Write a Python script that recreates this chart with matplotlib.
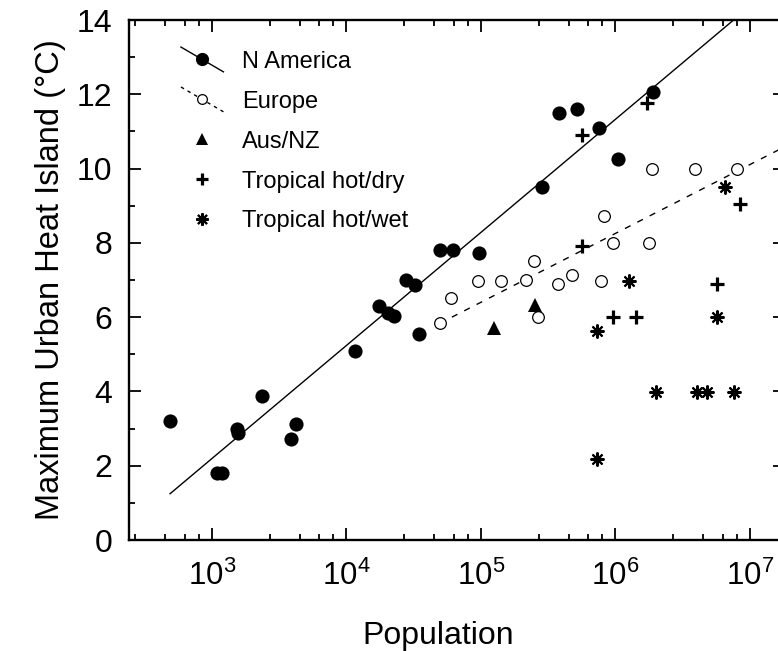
import numpy as np
import matplotlib
matplotlib.use('Agg')
import matplotlib.pyplot as plt
from matplotlib.lines import Line2D
from matplotlib.legend_handler import HandlerBase
from matplotlib.ticker import LogLocator, MultipleLocator, NullFormatter

plt.rcParams['font.family'] = ['Liberation Sans', 'DejaVu Sans']
plt.rcParams['mathtext.fontset'] = 'custom'
plt.rcParams['mathtext.rm'] = 'Liberation Sans'
plt.rcParams['mathtext.default'] = 'regular'

# ---------------- data ----------------
na_pop = [486, 1096, 1189, 1538, 1581, 2355, 4207, 3882, 11560, 17500, 20400,
          22650, 27900, 32140, 35000, 49300, 61800, 97500, 287000, 381000,
          516000, 755000, 1045000, 1897000]
na_ui = [3.20, 1.80, 1.80, 3.00, 2.87, 3.89, 3.11, 2.71, 5.10, 6.31, 6.10,
         6.03, 7.00, 6.87, 5.54, 7.81, 7.81, 7.72, 9.51, 11.50, 11.60, 11.10,
         10.26, 12.05]

eu_pop = [49300, 60100, 95700, 141000, 218000, 249000, 264000, 377000, 474000,
          785000, 822000, 957000, 1770000, 1875000, 3880000, 7980000]
eu_ui = [5.83, 6.51, 6.98, 6.98, 7.00, 7.52, 6.01, 6.89, 7.14, 6.98, 8.73,
         8.00, 8.00, 9.98, 9.98, 10.00]

au_pop = [126000, 252000]
au_ui = [5.70, 6.33]

thd_pop = [568000, 1722000, 568000, 8450000, 5680000, 957000, 1426000]
thd_ui = [10.90, 11.77, 7.92, 9.04, 6.89, 6.01, 6.01]

thw_pop = [6550000, 1259000, 5680000, 726000, 2005000, 4036000, 4786000,
           7551000, 726000]
thw_ui = [9.51, 6.98, 6.01, 5.63, 3.99, 3.99, 3.99, 3.99, 2.17]

# regression lines: UHI = slope * log10(P) + intercept
na_fit = (3.046, -6.95)
eu_fit = (1.855, -2.876)

labels = ['N America', 'Europe', 'Aus/NZ', 'Tropical hot/dry', 'Tropical hot/wet']
y_ticks = [0, 2, 4, 6, 8, 10, 12, 14]
minor_subs = [2.7, 4.5, 6.3, 8.0]

# ---------------- figure ----------------
W, H = 778, 651
fig = plt.figure(figsize=(W / 100, H / 100), dpi=100)
ax = fig.add_axes([129 / W, 111 / H, 656 / W, 520 / H])
ax.set_xscale('log')
xmin, xmax = 10 ** 2.3856, 10 ** 7.26
ax.set_xlim(xmin, xmax)
ax.set_ylim(0, 14)

# regression lines
for pop, fit, ls in [(na_pop, na_fit, '-'), (eu_pop, eu_fit, '--')]:
    xs = np.array([min(pop), xmax])
    ys = fit[0] * np.log10(xs) + fit[1]
    kw = dict(color='black', lw=1.0, solid_capstyle='butt', zorder=2)
    if ls == '--':
        ax.plot(xs, ys, linestyle=(0, (4.5, 5.5)), **kw)
    else:
        ax.plot(xs, ys, linestyle='-', **kw)

ax.plot(na_pop, na_ui, 'o', color='black', ms=10.2, mew=0, zorder=3)
ax.plot(eu_pop, eu_ui, 'o', mfc='white', mec='black', ms=8.4, mew=0.9, zorder=3)
ax.plot(au_pop, au_ui, '^', color='black', ms=9.5, mew=0, zorder=3)
ax.plot(thd_pop, thd_ui, '+', color='black', ms=9.5, mew=2.3, zorder=3)
ax.plot(thw_pop, thw_ui, marker=(8, 2, 0), ls='none', color='black', ms=10,
        mew=1.5, zorder=3)

# axes styling
for s in ax.spines.values():
    s.set_linewidth(1.7)
ax.set_yticks(y_ticks)
ax.yaxis.set_minor_locator(MultipleLocator(1))
ax.xaxis.set_major_locator(LogLocator(base=10, numticks=20))
ax.xaxis.set_minor_locator(LogLocator(base=10, subs=minor_subs, numticks=20))
ax.xaxis.set_minor_formatter(NullFormatter())
ax.tick_params(which='both', direction='in', top=True, right=True, width=1.3)
ax.tick_params(which='major', length=8.5)
ax.tick_params(which='minor', length=4.5)
ax.tick_params(axis='y', labelsize=23, pad=12)
ax.tick_params(axis='x', labelsize=22.5, pad=15)

ax.set_xlabel('Population', fontsize=23)
ax.xaxis.set_label_coords((438 - 129) / 656, -0.155)
ax.set_ylabel('Maximum Urban Heat Island (\u00b0C)', fontsize=23.5, labelpad=8)


# legend with slanted line handles
class SlantHandler(HandlerBase):
    def create_artists(self, legend, orig_handle, xdescent, ydescent,
                       width, height, fontsize, trans):
        x0 = -xdescent
        x = np.array([x0, x0 + width / 2, x0 + width])
        yc = height / 2 - ydescent
        dy = height * 0.75
        y = np.array([yc + dy, yc, yc - dy])
        line = Line2D(x, y, markevery=[1])
        self.update_prop(line, orig_handle, legend)
        line.set_transform(trans)
        return [line]


h_na = Line2D([], [], color='black', marker='o', ms=9.5, mew=0, lw=1.0)
h_eu = Line2D([], [], color='black', marker='o', mfc='white', mec='black',
              ms=7, mew=0.9, lw=1.0, linestyle=(0, (2.5, 3)))
h_au = Line2D([], [], color='black', marker='^', ms=9, mew=0, ls='none')
h_thd = Line2D([], [], color='black', marker='+', ms=9, mew=2.3, ls='none')
h_thw = Line2D([], [], color='black', marker=(8, 2, 0), ms=9, mew=1.5, ls='none')

leg = ax.legend([h_na, h_eu, h_au, h_thd, h_thw], labels,
                handler_map={h_na: SlantHandler(), h_eu: SlantHandler()},
                loc='upper left', bbox_to_anchor=(0.072, 0.950), frameon=False,
                fontsize=17, handlelength=1.8, handletextpad=0.8,
                labelspacing=0.76, borderaxespad=0.0, borderpad=0.2)

fig.savefig('out.png', dpi=100)
